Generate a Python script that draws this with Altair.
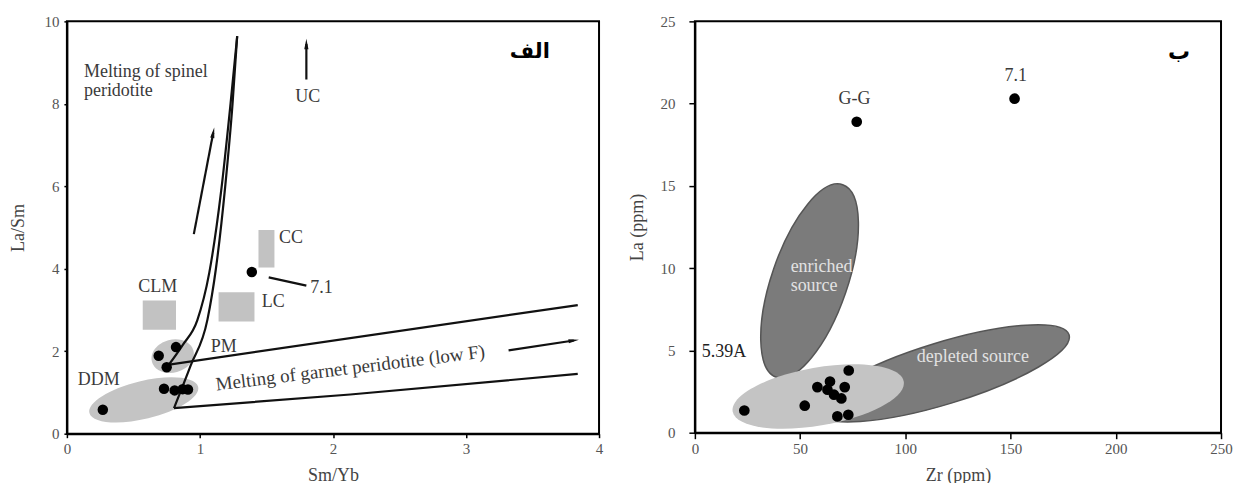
import altair as alt
import pandas as pd

# ---------------- Left panel (الف): La/Sm vs Sm/Yb ----------------
L_x = [0.27, 0.69, 0.82, 0.75, 0.73, 0.81, 0.87, 0.91, 1.39]
L_y = [0.58, 1.89, 2.10, 1.61, 1.09, 1.05, 1.08, 1.07, 3.92]

rect_names = ["CLM", "LC", "CC"]
rect_x1 = [0.57, 1.14, 1.44]
rect_x2 = [0.82, 1.41, 1.56]
rect_y1 = [2.52, 2.72, 4.03]
rect_y2 = [3.23, 3.43, 4.94]

spinel_a_x = [0.756, 0.87, 0.98, 1.07, 1.16, 1.23, 1.28]
spinel_a_y = [1.63, 2.15, 2.75, 3.9, 5.9, 8.0, 9.64]
spinel_b_x = [0.805, 0.93, 1.056, 1.12, 1.19, 1.245, 1.28]
spinel_b_y = [0.62, 1.65, 2.76, 4.0, 6.0, 8.0, 9.64]
garnet_up_x = [0.756, 3.84]
garnet_up_y = [1.67, 3.12]
garnet_lo_x = [0.805, 2.13, 3.84]
garnet_lo_y = [0.62, 0.95, 1.45]
lead71_x = [1.517, 1.80]
lead71_y = [3.79, 3.59]
arr_g_x = [3.32, 3.81]
arr_g_y = [2.02, 2.26]
arr_s_x = [0.954, 1.10]
arr_s_y = [4.84, 7.30]
arr_uc_x = [1.80, 1.80]
arr_uc_y = [8.59, 9.45]

ddm_center = (0.578, 0.82)
pm_center = (0.795, 1.88)

L_lab = ["UC", "CC", "CLM", "LC", "PM", "DDM", "7.1"]
L_lab_x = [1.811, 1.685, 0.683, 1.551, 1.178, 0.24, 1.914]
L_lab_y = [8.16, 4.75, 3.56, 3.20, 2.11, 1.31, 3.54]

spinel_txt = ["Melting of spinel", "peridotite"]
spinel_txt_x = [0.128, 0.128]
spinel_txt_y = [8.77, 8.30]
garnet_txt = "Melting of garnet peridotite  (low F)"
garnet_txt_xy = (2.13, 1.59)
L_tag = "الف"
L_tag_xy = (3.48, 9.25)

# ---------------- Right panel (ب): La vs Zr ----------------
R_x = [23.5, 52.2, 58.2, 64.2, 63.0, 66.1, 69.6, 71.2, 73.1, 67.7, 72.9, 76.9, 151.9]
R_y = [1.35, 1.64, 2.77, 3.11, 2.61, 2.31, 2.08, 2.77, 3.78, 0.99, 1.09, 18.9, 20.3]

light_center = (58.6, 2.20)
depleted_center = (117.9, 3.61)
enriched_center = (54.5, 9.22)

R_lab = ["G-G", "7.1"]
R_lab_x = [75.8, 152.5]
R_lab_y = [20.27, 21.66]
s539_txt = "5.39A"
s539_xy = (3.3, 4.93)
enr_txt = ["enriched", "source"]
enr_txt_x = [45.5, 45.5]
enr_txt_y = [10.07, 8.92]
dep_txt = "depleted source"
dep_txt_xy = (132.1, 4.61)
R_tag = "ب"
R_tag_xy = (230.1, 23.15)

SERIF = "Liberation Serif"
TXT = "#3a3a3a"
FS = 18


def ell(r):
    k = 0.5523
    return (f"M-1,0 C-1,{-k*r:.4f} {-k:.4f},{-r:.4f} 0,{-r:.4f} "
            f"C{k:.4f},{-r:.4f} 1,{-k*r:.4f} 1,0 "
            f"C1,{k*r:.4f} {k:.4f},{r:.4f} 0,{r:.4f} "
            f"C{-k:.4f},{r:.4f} -1,{k*r:.4f} -1,0 Z")


HEAD = "M0,-1 L0.4,1 L-0.4,1 Z"


def lines_df(groups):
    rows = []
    for gid, (xs, ys) in enumerate(groups):
        for i, (a, b) in enumerate(zip(xs, ys)):
            rows.append({"g": gid, "o": i, "x": a, "y": b})
    return pd.DataFrame(rows)


def one(xy, **kw):
    d = {"x": [xy[0]], "y": [xy[1]]}
    d.update({k: [v] for k, v in kw.items()})
    return pd.DataFrame(d)


axis_style = dict(domainColor="black", domainWidth=2, tickColor="black", tickWidth=1.5,
                  labelFont=SERIF, labelFontSize=15, labelColor="#555", labelFlush=False,
                  titleFont=SERIF, titleFontSize=18, titleColor="#444",
                  titleFontWeight="normal", grid=False)

# ---- left encodings
W1, H1 = 533, 413
lx = alt.X("x:Q", scale=alt.Scale(domain=[0, 4], nice=False, zero=False),
           axis=alt.Axis(values=[0, 1, 2, 3, 4], title="Sm/Yb", tickSize=4, labelPadding=4,
                         titleX=W1 / 2, titleY=42, titleBaseline="middle", **axis_style))
ly = alt.Y("y:Q", scale=alt.Scale(domain=[0, 10], nice=False, zero=False),
           axis=alt.Axis(values=[0, 2, 4, 6, 8, 10], title="La/Sm", tickSize=3, labelPadding=5,
                         titleX=-48, titleY=H1 / 2, titleAngle=270, titleBaseline="middle",
                         minExtent=40, maxExtent=40, **axis_style))

rect_df = pd.DataFrame({"name": rect_names, "x": rect_x1, "x2": rect_x2, "y": rect_y1, "y2": rect_y2})
rects = alt.Chart(rect_df).mark_rect(color="#c2c2c2").encode(x=lx, x2="x2:Q", y=ly, y2="y2:Q")

ddm = alt.Chart(one(ddm_center)).mark_point(shape=ell(19 / 56), size=4 * 56 ** 2, angle=346.5,
                                             filled=True, color="#c4c4c4", opacity=1).encode(x=lx, y=ly)
pm = alt.Chart(one(pm_center)).mark_point(shape=ell(16.5 / 21.5), size=4 * 21.5 ** 2, angle=345,
                                           filled=True, color="#c4c4c4", opacity=1).encode(x=lx, y=ly)

curves = lines_df([(spinel_a_x, spinel_a_y), (spinel_b_x, spinel_b_y)])
lcurve = alt.Chart(curves).mark_line(color="#111", strokeWidth=2.2, interpolate="monotone").encode(
    x=lx, y=ly, detail="g:N", order="o:Q")

llines = lines_df([(garnet_up_x, garnet_up_y), (garnet_lo_x, garnet_lo_y), (lead71_x, lead71_y),
                   (arr_g_x, arr_g_y), (arr_s_x, arr_s_y), (arr_uc_x, arr_uc_y)])
lline = alt.Chart(llines).mark_line(color="#111", strokeWidth=2.2).encode(
    x=lx, y=ly, detail="g:N", order="o:Q")

heads = []
for (xs, ys), ang in [((arr_g_x, arr_g_y), 81.4), ((arr_s_x, arr_s_y), 10.9), ((arr_uc_x, arr_uc_y), 0)]:
    heads.append(alt.Chart(one((xs[-1], ys[-1]))).mark_point(
        shape=HEAD, size=110, angle=ang, filled=True, color="#111", opacity=1).encode(x=lx, y=ly))

lpts = alt.Chart(pd.DataFrame({"x": L_x, "y": L_y})).mark_circle(
    size=110, color="black", opacity=1).encode(x=lx, y=ly)

llab = alt.Chart(pd.DataFrame({"t": L_lab, "x": L_lab_x, "y": L_lab_y})).mark_text(
    font=SERIF, fontSize=FS, color=TXT).encode(x=lx, y=ly, text="t:N")
lsp = alt.Chart(pd.DataFrame({"t": spinel_txt, "x": spinel_txt_x, "y": spinel_txt_y})).mark_text(
    font=SERIF, fontSize=FS, color=TXT, align="left").encode(x=lx, y=ly, text="t:N")
lgar = alt.Chart(one(garnet_txt_xy, t=garnet_txt)).mark_text(
    font=SERIF, fontSize=19, color=TXT, angle=353).encode(x=lx, y=ly, text="t:N")
ltag = alt.Chart(one(L_tag_xy, t=L_tag)).mark_text(
    font="DejaVu Sans", fontSize=21, fontWeight="bold", color="black").encode(x=lx, y=ly, text="t:N")

left = alt.layer(rects, ddm, pm, lcurve, lline, *heads, lpts, llab, lsp, lgar, ltag).properties(
    width=W1, height=H1)

# ---- right encodings
W2, H2 = 527, 412
rx = alt.X("x:Q", scale=alt.Scale(domain=[0, 250], nice=False, zero=False),
           axis=alt.Axis(values=[0, 50, 100, 150, 200, 250], title="Zr (ppm)", tickSize=6, labelPadding=3,
                         titleX=W2 / 2, titleY=43, titleBaseline="middle", **axis_style))
ry = alt.Y("y:Q", scale=alt.Scale(domain=[0, 25], nice=False, zero=False),
           axis=alt.Axis(values=[0, 5, 10, 15, 20, 25], title="La (ppm)", tickSize=6, labelPadding=14,
                         titleX=-57, titleY=H2 / 2, titleAngle=270, titleBaseline="middle",
                         minExtent=40, maxExtent=40, **axis_style))

enr = alt.Chart(one(enriched_center)).mark_point(shape=ell(38 / 102), size=4 * 102 ** 2, angle=289,
                                                 filled=True, color="#7b7b7b", opacity=1,
                                                 stroke="#555", strokeWidth=1.5).encode(x=rx, y=ry)
dep = alt.Chart(one(depleted_center)).mark_point(shape=ell(31 / 132), size=4 * 132 ** 2, angle=343,
                                                 filled=True, color="#7b7b7b", opacity=1,
                                                 stroke="#555", strokeWidth=1.5).encode(x=rx, y=ry)
lig = alt.Chart(one(light_center)).mark_point(shape=ell(29 / 87), size=4 * 87 ** 2, angle=350,
                                              filled=True, color="#c4c4c4", opacity=1).encode(x=rx, y=ry)
rpts = alt.Chart(pd.DataFrame({"x": R_x, "y": R_y})).mark_circle(
    size=115, color="black", opacity=1).encode(x=rx, y=ry)
rlab = alt.Chart(pd.DataFrame({"t": R_lab, "x": R_lab_x, "y": R_lab_y})).mark_text(
    font=SERIF, fontSize=FS, color=TXT).encode(x=rx, y=ry, text="t:N")
r539 = alt.Chart(one(s539_xy, t=s539_txt)).mark_text(
    font=SERIF, fontSize=FS, color="#222", align="left").encode(x=rx, y=ry, text="t:N")
renr = alt.Chart(pd.DataFrame({"t": enr_txt, "x": enr_txt_x, "y": enr_txt_y})).mark_text(
    font=SERIF, fontSize=FS, color="#e2e2e2", align="left").encode(x=rx, y=ry, text="t:N")
rdep = alt.Chart(one(dep_txt_xy, t=dep_txt)).mark_text(
    font=SERIF, fontSize=FS, color="#e2e2e2").encode(x=rx, y=ry, text="t:N")
rtag = alt.Chart(one(R_tag_xy, t=R_tag)).mark_text(
    font="DejaVu Sans", fontSize=22, fontWeight="bold", color="black").encode(x=rx, y=ry, text="t:N")

right = alt.layer(enr, dep, lig, rpts, rlab, r539, renr, rdep, rtag).properties(width=W2, height=H2)

chart = alt.hconcat(left, right, spacing=96, bounds="flush").configure(
    padding={"left": 1, "top": 5, "right": 0, "bottom": 0}
).configure_view(stroke="black", strokeWidth=2)

chart.save("out.html", embed_options={"renderer": "svg", "actions": False})
